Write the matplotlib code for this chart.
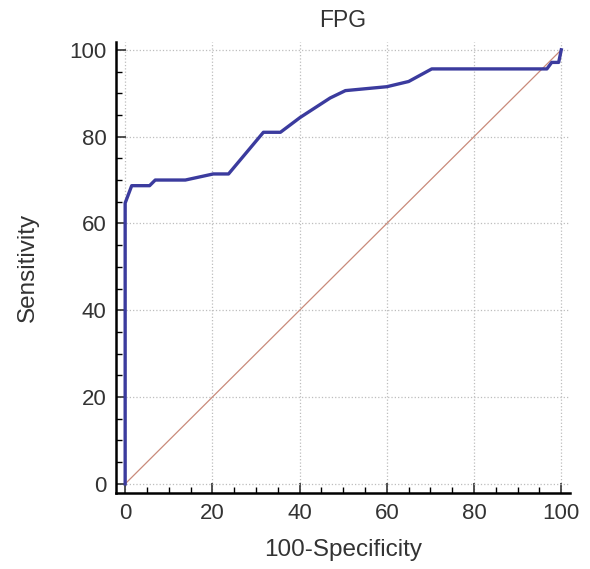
import matplotlib.pyplot as plt
from matplotlib.ticker import MultipleLocator

plt.rcParams['font.family'] = ['Liberation Sans', 'DejaVu Sans']

# ROC points (100-Specificity, Sensitivity)
fpr = [0, 0, 1.5, 5.6, 6.9, 13.8, 20.2, 23.7, 31.7, 35.6, 40.1, 47.0, 50.5, 60.0, 65.0, 70.3, 96.7, 97.8, 99.4, 100]
tpr = [0, 64.7, 68.7, 68.7, 70.0, 70.0, 71.4, 71.4, 81.0, 81.0, 84.4, 88.9, 90.6, 91.5, 92.7, 95.6, 95.6, 97.1, 97.1, 100]
diag = [0, 100]

fig = plt.figure(figsize=(5.9, 5.69), dpi=100)
ax = fig.add_axes([116/590, 1-493/569, (570-116)/590, (493-42)/569])

ax.plot(diag, diag, color="#c98a7a", linewidth=0.9)
ax.plot(fpr, tpr, color="#3b3b9e", linewidth=2.4, solid_joinstyle="round")

ax.set_xlim(-2.1, 102)
ax.set_ylim(-2.1, 101.8)
ax.xaxis.set_major_locator(MultipleLocator(20))
ax.yaxis.set_major_locator(MultipleLocator(20))
ax.xaxis.set_minor_locator(MultipleLocator(5))
ax.yaxis.set_minor_locator(MultipleLocator(5))
ax.grid(True, which="major", color="#bdbdbd", linestyle=":", linewidth=0.9)

for s in ["top", "right"]:
    ax.spines[s].set_visible(False)
for s in ["left", "bottom"]:
    ax.spines[s].set_linewidth(1.8)

ax.tick_params(which="major", direction="in", length=7, width=1.2, labelsize=16, colors="#333333")
ax.tick_params(which="minor", direction="in", length=4, width=1.0)
ax.tick_params(axis="x", pad=7)
ax.tick_params(axis="y", pad=7)

ax.set_title("FPG", fontsize=16.5, color="#333333", pad=11)
ax.set_xlabel("100-Specificity", fontsize=17.5, color="#333333", labelpad=11)
ax.set_ylabel("Sensitivity", fontsize=17.5, color="#333333", labelpad=22)

fig.savefig("out.png", dpi=100)
